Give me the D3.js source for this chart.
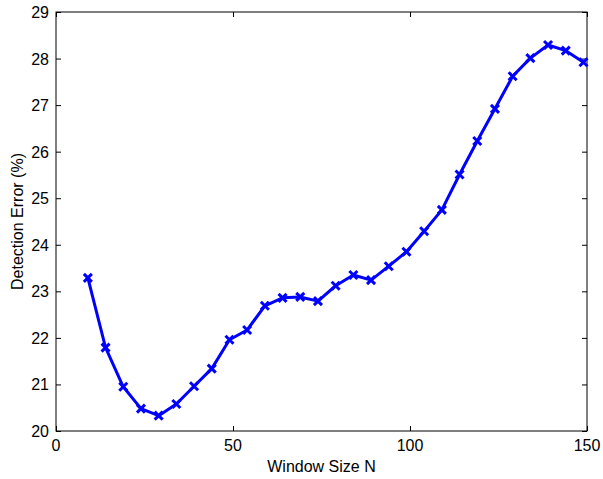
<!DOCTYPE html>
<meta charset="utf-8">
<head>
<style>
body { margin: 0; background: #fff; }
text { font: 16px "Liberation Sans", Arial, sans-serif; fill: #000; }
.axis path, .axis line { stroke: #000; }
</style>
<script src="https://d3js.org/d3.v7.min.js"></script>
</head>
<body>
<svg width="603" height="479"></svg>
<script>

// window sizes and detection error (%)
var windowSizes = [9, 14, 19, 24, 29, 34, 39, 44, 49, 54, 59, 64, 69, 74, 79,
                   84, 89, 94, 99, 104, 109, 114, 119, 124, 129, 134, 139, 144, 149];
var errors = [23.29, 21.79, 20.95, 20.48, 20.33, 20.58, 20.96, 21.34, 21.96, 22.17,
              22.69, 22.86, 22.88, 22.79, 23.12, 23.35, 23.24, 23.54, 23.85, 24.29,
              24.75, 25.51, 26.23, 26.92, 27.62, 28.01, 28.29, 28.17, 27.92];
var xTicks = [0, 50, 100, 150];
var yTicks = [20, 21, 22, 23, 24, 25, 26, 27, 28, 29];

var svg = d3.select("svg"),
    margin = {left: 56, right: 16, top: 12, bottom: 48},
    width = 603 - margin.left - margin.right,
    height = 479 - margin.top - margin.bottom;

var x = d3.scaleLinear().domain([0, 150]).range([margin.left, margin.left + width]);
var y = d3.scaleLinear().domain([20, 29]).range([margin.top + height, margin.top]);

var data = windowSizes.map(function(n, i) { return {n: n, e: errors[i]}; });

// ticks pointing inward on all four sides (matlab style box)
svg.append("g").attr("class", "axis")
    .attr("transform", "translate(0," + y(20) + ")")
    .call(d3.axisTop(x).tickValues(xTicks).tickSize(5).tickFormat(""));
svg.append("g").attr("class", "axis")
    .attr("transform", "translate(0," + y(29) + ")")
    .call(d3.axisBottom(x).tickValues(xTicks).tickSize(5).tickFormat(""));
svg.append("g").attr("class", "axis")
    .attr("transform", "translate(" + x(0) + ",0)")
    .call(d3.axisRight(y).tickValues(yTicks).tickSize(5).tickFormat(""));
svg.append("g").attr("class", "axis")
    .attr("transform", "translate(" + x(150) + ",0)")
    .call(d3.axisLeft(y).tickValues(yTicks).tickSize(5).tickFormat(""));

svg.selectAll(".axis path").remove();

svg.append("rect")
    .attr("x", x(0)).attr("y", y(29))
    .attr("width", x(150) - x(0)).attr("height", y(20) - y(29))
    .attr("fill", "none").attr("stroke", "#000").attr("stroke-width", 1);

// tick labels
svg.append("g").selectAll("text")
  .data(xTicks)
  .enter().append("text")
    .attr("x", function(d) { return x(d); })
    .attr("y", y(20) + 20)
    .attr("text-anchor", "middle")
    .text(function(d) { return d; });

svg.append("g").selectAll("text")
  .data(yTicks)
  .enter().append("text")
    .attr("x", x(0) - 7)
    .attr("y", function(d) { return y(d) + 6; })
    .attr("text-anchor", "end")
    .text(function(d) { return d; });

svg.append("text")
    .attr("x", (x(0) + x(150)) / 2)
    .attr("y", y(20) + 41)
    .attr("text-anchor", "middle")
    .text("Window Size N");

svg.append("text")
    .attr("transform", "translate(22.5," + (y(20) + y(29)) / 2 + ") rotate(-90)")
    .attr("text-anchor", "middle")
    .text("Detection Error (%)");

var line = d3.line()
    .x(function(d) { return x(d.n); })
    .y(function(d) { return y(d.e); });

svg.append("path")
    .datum(data)
    .attr("d", line)
    .attr("fill", "none")
    .attr("stroke", "#0000ff")
    .attr("stroke-width", 3)
    .attr("stroke-linejoin", "round");

var s = 4;
svg.append("g").selectAll("path")
  .data(data)
  .enter().append("path")
    .attr("transform", function(d) { return "translate(" + x(d.n) + "," + y(d.e) + ")"; })
    .attr("d", "M" + -s + "," + -s + "L" + s + "," + s + "M" + -s + "," + s + "L" + s + "," + -s)
    .attr("stroke", "#0000ff")
    .attr("stroke-width", 3);

</script>
</body>
